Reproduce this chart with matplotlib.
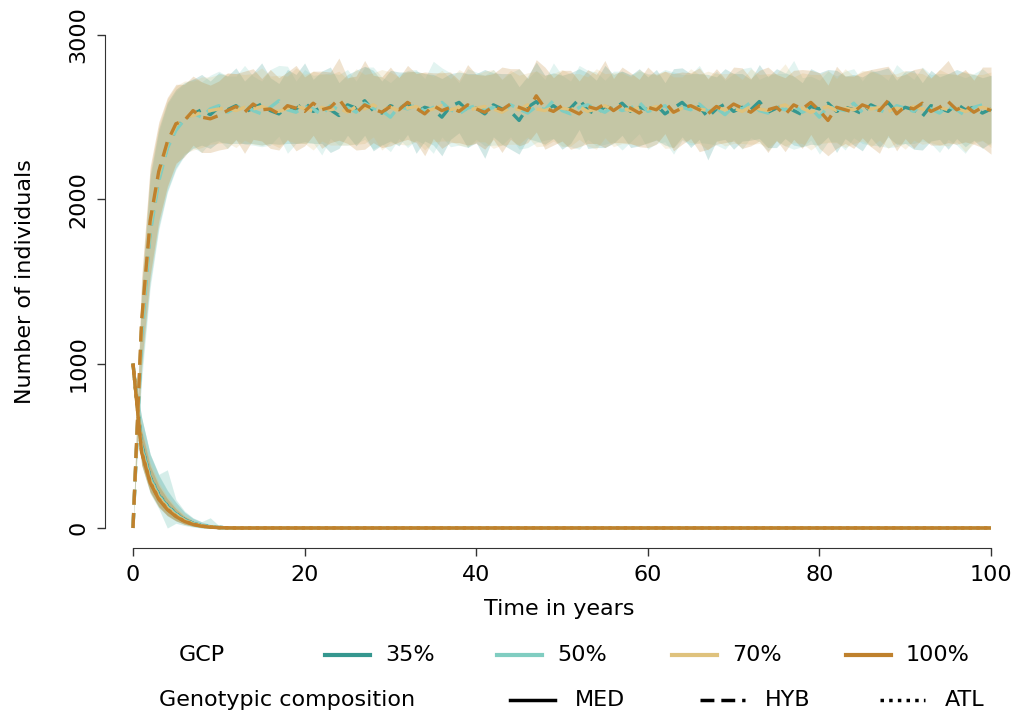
import matplotlib
matplotlib.use('Agg')
import matplotlib.pyplot as plt
from matplotlib.lines import Line2D
import numpy as np

# ---- data ----
years = np.arange(101)

gcp_labels = ['35%', '50%', '70%', '100%']
gcp_colors = ['#35978f', '#80cdc1', '#dfc27d', '#bf812d']
geno_labels = ['MED', 'HYB', 'ATL']

# HYB mean, years 0..10
hyb_start_35 = [0, 1200, 1820, 2130, 2320, 2430, 2490, 2520, 2545, 2515, 2560]
hyb_start_50 = [0, 1150, 1790, 2110, 2310, 2420, 2485, 2525, 2500, 2550, 2570]
hyb_start_70 = [0, 1230, 1850, 2150, 2340, 2450, 2500, 2510, 2530, 2540, 2550]
hyb_start_100 = [0, 1260, 1870, 2170, 2350, 2460, 2480, 2540, 2500, 2490, 2510]

# HYB mean, years 11..100
hyb_tail_35 = [2545, 2570, 2530, 2555, 2580, 2540, 2520, 2565, 2550, 2590,
               2535, 2560, 2545, 2510, 2575, 2555, 2600, 2540, 2525, 2570,
               2550, 2585, 2530, 2560, 2545, 2500, 2565, 2590, 2540, 2555,
               2520, 2575, 2550, 2535, 2480, 2560, 2595, 2545, 2570, 2530,
               2555, 2610, 2540, 2520, 2565, 2550, 2585, 2535, 2560, 2545,
               2575, 2520, 2555, 2590, 2540, 2565, 2500, 2550, 2580, 2535,
               2560, 2545, 2595, 2530, 2555, 2570, 2540, 2515, 2565, 2550,
               2585, 2535, 2560, 2545, 2520, 2575, 2550, 2590, 2530, 2560,
               2545, 2505, 2570, 2555, 2535, 2580, 2545, 2560, 2525, 2550]
hyb_tail_50 = [2530, 2555, 2575, 2540, 2520, 2560, 2600, 2545, 2530, 2565,
               2550, 2515, 2570, 2545, 2560, 2530, 2585, 2555, 2540, 2500,
               2565, 2550, 2575, 2535, 2560, 2590, 2545, 2520, 2555, 2570,
               2540, 2560, 2530, 2575, 2550, 2525, 2565, 2545, 2600, 2540,
               2520, 2560, 2575, 2550, 2530, 2565, 2540, 2555, 2590, 2535,
               2550, 2570, 2525, 2560, 2545, 2580, 2535, 2555, 2515, 2565,
               2550, 2590, 2540, 2525, 2560, 2545, 2575, 2530, 2555, 2500,
               2565, 2550, 2540, 2585, 2530, 2560, 2545, 2520, 2570, 2555,
               2535, 2580, 2550, 2525, 2565, 2545, 2510, 2560, 2575, 2540]
hyb_tail_70 = [2555, 2540, 2560, 2550, 2565, 2545, 2535, 2555, 2570, 2550,
               2540, 2560, 2545, 2555, 2530, 2565, 2550, 2575, 2545, 2560,
               2540, 2555, 2565, 2535, 2550, 2570, 2545, 2560, 2540, 2555,
               2565, 2550, 2530, 2560, 2545, 2575, 2550, 2540, 2560, 2555,
               2545, 2565, 2535, 2550, 2570, 2545, 2555, 2540, 2560, 2550,
               2565, 2545, 2530, 2555, 2570, 2550, 2540, 2560, 2545, 2555,
               2535, 2565, 2550, 2540, 2560, 2575, 2545, 2555, 2530, 2550,
               2565, 2540, 2555, 2545, 2570, 2550, 2560, 2535, 2555, 2545,
               2565, 2550, 2540, 2560, 2545, 2555, 2535, 2550, 2560, 2545]
hyb_tail_100 = [2540, 2565, 2530, 2580, 2545, 2550, 2520, 2570, 2555, 2535,
                2585, 2545, 2560, 2610, 2540, 2525, 2575, 2550, 2530, 2565,
                2545, 2590, 2555, 2520, 2570, 2540, 2560, 2535, 2575, 2550,
                2530, 2565, 2545, 2580, 2560, 2540, 2630, 2555, 2535, 2570,
                2545, 2520, 2565, 2550, 2580, 2540, 2575, 2555, 2525, 2560,
                2545, 2590, 2530, 2555, 2570, 2545, 2520, 2565, 2540, 2580,
                2555, 2530, 2570, 2545, 2560, 2515, 2575, 2550, 2590, 2540,
                2480, 2560, 2545, 2530, 2575, 2555, 2540, 2600, 2520, 2565,
                2550, 2585, 2535, 2560, 2595, 2545, 2570, 2530, 2560, 2540]

# HYB band half-width, years 0..10
hyb_hw_start = [0, 260, 330, 300, 270, 240, 220, 210, 215, 205, 210]
# HYB band half-width, years 11..100 (one per GCP)
hyb_hw_tail_35 = [205, 230, 190, 215, 250, 200, 185, 225, 210, 240,
                  195, 220, 260, 200, 185, 230, 210, 245, 195, 215,
                  225, 190, 250, 205, 215, 235, 200, 185, 225, 210,
                  270, 195, 215, 230, 205, 190, 240, 210, 200, 225,
                  215, 185, 230, 205, 250, 210, 195, 220, 235, 200,
                  215, 190, 240, 210, 225, 200, 260, 195, 215, 230,
                  205, 185, 225, 215, 240, 200, 210, 195, 230, 220,
                  205, 250, 190, 215, 225, 200, 235, 210, 195, 220,
                  240, 205, 215, 190, 230, 210, 225, 200, 215, 205]
hyb_hw_tail_50 = [220, 195, 240, 210, 200, 230, 215, 265, 190, 225,
                  205, 245, 200, 215, 230, 190, 220, 250, 205, 210,
                  195, 235, 215, 200, 280, 210, 225, 190, 240, 205,
                  215, 230, 200, 195, 245, 210, 220, 185, 230, 215,
                  200, 255, 210, 225, 195, 215, 240, 205, 190, 230,
                  210, 220, 250, 200, 215, 235, 195, 225, 210, 200,
                  245, 215, 190, 230, 205, 220, 270, 210, 195, 225,
                  215, 200, 240, 210, 190, 230, 220, 205, 250, 215,
                  195, 225, 210, 240, 200, 215, 230, 205, 220, 210]
hyb_hw_tail_70 = [210, 225, 200, 215, 235, 205, 220, 195, 230, 210,
                  240, 205, 215, 225, 200, 230, 210, 195, 245, 215,
                  205, 225, 210, 235, 200, 215, 190, 230, 220, 205,
                  215, 240, 200, 225, 210, 195, 230, 215, 205, 235,
                  220, 200, 210, 245, 195, 225, 215, 205, 230, 210,
                  200, 235, 215, 190, 225, 210, 240, 205, 220, 215,
                  195, 230, 210, 225, 205, 250, 200, 215, 230, 210,
                  220, 195, 240, 205, 215, 230, 200, 225, 210, 240,
                  205, 215, 195, 230, 220, 205, 245, 210, 200, 230]
hyb_hw_tail_100 = [230, 200, 250, 215, 190, 240, 220, 205, 260, 210,
                   195, 235, 215, 250, 200, 225, 270, 205, 215, 240,
                   195, 225, 210, 255, 200, 230, 215, 190, 245, 210,
                   225, 200, 260, 215, 235, 195, 220, 250, 205, 215,
                   240, 200, 225, 210, 265, 195, 230, 215, 205, 245,
                   210, 190, 235, 220, 200, 255, 215, 230, 195, 225,
                   245, 205, 215, 260, 200, 225, 210, 240, 195, 230,
                   215, 250, 205, 220, 200, 235, 260, 210, 225, 195,
                   240, 215, 205, 230, 250, 210, 220, 195, 245, 265]

# MED / ATL decay, years 0..15 (zero afterwards)
med_35 = [1000, 500, 305, 200, 132, 85, 50, 28, 14, 7, 3, 1, 0, 0, 0, 0]
med_50 = [1000, 490, 300, 195, 128, 82, 48, 27, 13, 7, 3, 1, 0, 0, 0, 0]
med_70 = [1000, 470, 285, 185, 120, 76, 44, 24, 12, 6, 3, 1, 0, 0, 0, 0]
med_100 = [1000, 460, 275, 175, 112, 70, 40, 22, 11, 5, 2, 1, 0, 0, 0, 0]
atl_35 = [1000, 505, 310, 205, 136, 88, 52, 29, 15, 8, 4, 2, 1, 0, 0, 0]
atl_50 = [1000, 495, 302, 198, 130, 84, 49, 27, 14, 7, 3, 1, 0, 0, 0, 0]
atl_70 = [1000, 475, 290, 188, 122, 78, 45, 25, 12, 6, 3, 1, 0, 0, 0, 0]
atl_100 = [1000, 465, 280, 178, 115, 72, 41, 23, 11, 6, 2, 1, 0, 0, 0, 0]
decay_hw_35 = [0, 170, 140, 120, 95, 70, 45, 30, 22, 14, 10, 6, 3, 1, 0, 0]
decay_hw_50 = [0, 180, 150, 130, 225, 90, 55, 35, 25, 55, 12, 5, 2, 1, 0, 0]
decay_hw_70 = [0, 140, 110, 90, 70, 52, 35, 22, 14, 8, 5, 3, 1, 0, 0, 0]
decay_hw_100 = [0, 130, 100, 82, 64, 46, 30, 19, 12, 7, 4, 2, 1, 0, 0, 0]
zero_tail = [0, 0, 0, 0, 0, 0, 0, 0, 0, 0, 0, 0, 0, 0, 0, 0, 0, 0, 0, 0,
             0, 0, 0, 0, 0, 0, 0, 0, 0, 0, 0, 0, 0, 0, 0, 0, 0, 0, 0, 0,
             0, 0, 0, 0, 0, 0, 0, 0, 0, 0, 0, 0, 0, 0, 0, 0, 0, 0, 0, 0,
             0, 0, 0, 0, 0, 0, 0, 0, 0, 0, 0, 0, 0, 0, 0, 0, 0, 0, 0, 0,
             0, 0, 0, 0, 0]

hyb_mean = [hyb_start_35 + hyb_tail_35, hyb_start_50 + hyb_tail_50,
            hyb_start_70 + hyb_tail_70, hyb_start_100 + hyb_tail_100]
hyb_hw = [hyb_hw_start + hyb_hw_tail_35, hyb_hw_start + hyb_hw_tail_50,
          hyb_hw_start + hyb_hw_tail_70, hyb_hw_start + hyb_hw_tail_100]
med_mean = [m + zero_tail for m in (med_35, med_50, med_70, med_100)]
atl_mean = [m + zero_tail for m in (atl_35, atl_50, atl_70, atl_100)]
decay_hw = [h + zero_tail for h in (decay_hw_35, decay_hw_50, decay_hw_70, decay_hw_100)]

# ---- figure ----
W, H = 1013, 715
fig = plt.figure(figsize=(W / 100, H / 100), dpi=100)
plt.rcParams['font.family'] = 'DejaVu Sans'
FS = 16

# axes from px x 105..1013, y 15..548
ax = fig.add_axes([105 / W, 1 - 548 / H, (W - 105) / W, (548 - 15) / H])
ax.set_xlim(-28 / 8.58, (W - 133) / 8.58)
ax.set_ylim(-20 * 3000 / 493, 3000 + 20 * 3000 / 493)

hyb_dash = (0, (4.5, 2.5))
atl_dot = (0, (1, 1.3))

for i in range(4):
    c = gcp_colors[i]
    m = np.array(hyb_mean[i])
    h = np.array(hyb_hw[i])
    ax.fill_between(years, m - h, m + h, color=c, alpha=0.22, lw=0)
    for mm in (med_mean[i], atl_mean[i]):
        mm = np.array(mm)
        d = np.array(decay_hw[i])
        ax.fill_between(years, np.maximum(mm - d * 0.6, 0), mm + d, color=c, alpha=0.18, lw=0)

for i in range(4):
    c = gcp_colors[i]
    ax.plot(years, med_mean[i], color=c, lw=2.4, solid_capstyle='butt')
    ax.plot(years, atl_mean[i], color=c, lw=2.4, linestyle=atl_dot)
    ax.plot(years, hyb_mean[i], color=c, lw=2.4, linestyle=hyb_dash)

for s in ('top', 'right'):
    ax.spines[s].set_visible(False)
ax.spines['left'].set_bounds(0, 3000)
ax.spines['bottom'].set_bounds(0, 100)
ax.spines['left'].set_color('#333333')
ax.spines['bottom'].set_color('#333333')
ax.set_xticks([0, 20, 40, 60, 80, 100])
ax.set_yticks([0, 1000, 2000, 3000])
ax.set_yticklabels(['0', '1000', '2000', '3000'], rotation=90, va='center')
ax.tick_params(direction='out', length=6, width=1, labelsize=FS, pad=6, color='#333333')
ax.set_xlabel('Time in years', fontsize=FS, labelpad=10)
ax.set_ylabel('Number of individuals', fontsize=FS, labelpad=24)

# ---- legend rows drawn in figure pixels ----
def fx(x):
    return x / W

def fy(y):
    return 1 - y / H

row1, row2 = 655, 700
fig.text(fx(202), fy(row1), 'GCP', fontsize=FS, ha='center', va='center')
line_x = [325, 497, 672, 846]
for i in range(4):
    fig.add_artist(Line2D([fx(line_x[i]), fx(line_x[i] + 45)], [fy(row1), fy(row1)],
                          color=gcp_colors[i], lw=3, transform=fig.transFigure))
    fig.text(fx(line_x[i] + 60), fy(row1), gcp_labels[i], fontsize=FS, ha='left', va='center')

fig.text(fx(287), fy(row2), 'Genotypic composition', fontsize=FS, ha='center', va='center')
geno_x = [510, 700, 880]
geno_styles = ['-', (0, (4, 2)), (0, (1, 1.5))]
for i in range(3):
    fig.add_artist(Line2D([fx(geno_x[i]), fx(geno_x[i] + 45)], [fy(row2), fy(row2)],
                          color='black', lw=2.5, linestyle=geno_styles[i],
                          transform=fig.transFigure))
    fig.text(fx(geno_x[i] + 65), fy(row2), geno_labels[i], fontsize=FS, ha='left', va='center')

fig.savefig('out.png', dpi=100)
